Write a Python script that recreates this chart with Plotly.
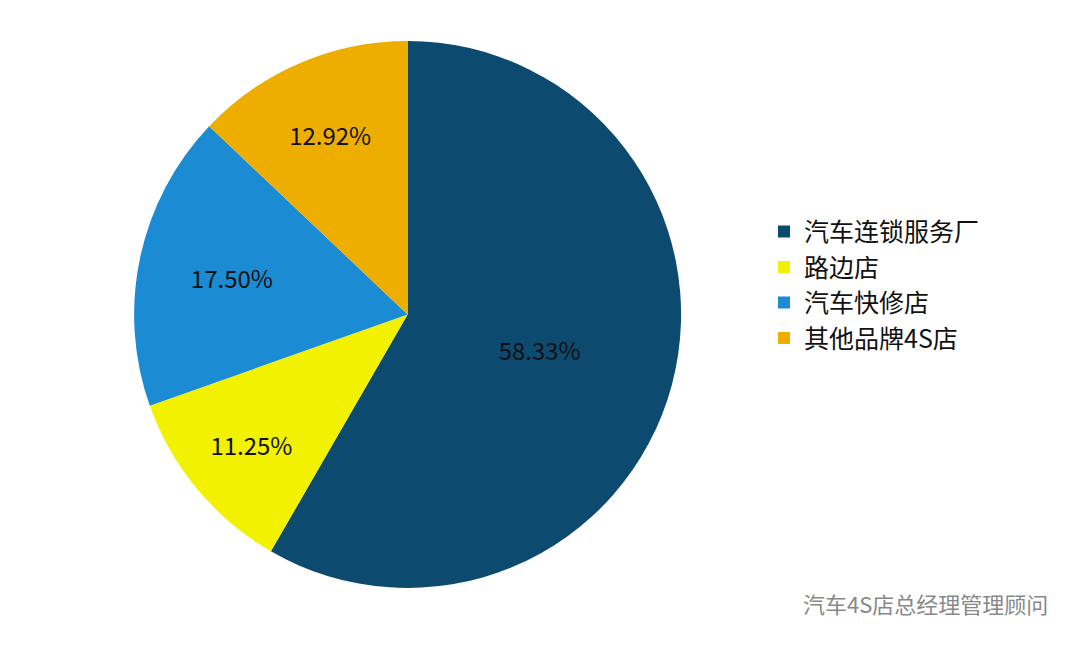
import plotly.graph_objects as go

labels = ["汽车连锁服务厂", "路边店", "汽车快修店", "其他品牌4S店"]
values = [58.33, 11.25, 17.50, 12.92]
colors = ["#0d4a70", "#f2f200", "#1b8bd3", "#eeae00"]

fig = go.Figure(go.Pie(
    labels=labels, values=values, sort=False, direction="clockwise", rotation=0,
    marker=dict(colors=colors, line=dict(color="#ffffff", width=0)),
    texttemplate="%{value:.2f}%", textposition="inside", insidetextorientation="horizontal",
    textfont=dict(size=24, color="#111111", family="Noto Sans CJK SC"),
    domain=dict(x=[0.08, 0.66], y=[0.12, 0.95]),
))
fig.update_layout(
    width=1080, height=659, paper_bgcolor="white", plot_bgcolor="white",
    margin=dict(l=0, r=0, t=0, b=0),
    font=dict(family="Noto Sans CJK SC", color="#111111"),
    legend=dict(x=0.7, y=0.58, xanchor="left", yanchor="middle",
                font=dict(size=25), itemwidth=30),
    annotations=[dict(text="汽车4S店总经理管理顾问", x=0.965, y=0.07, xref="paper", yref="paper",
                      xanchor="right", showarrow=False, font=dict(size=22, color="#888888"))],
)
fig.write_html("out.html")
